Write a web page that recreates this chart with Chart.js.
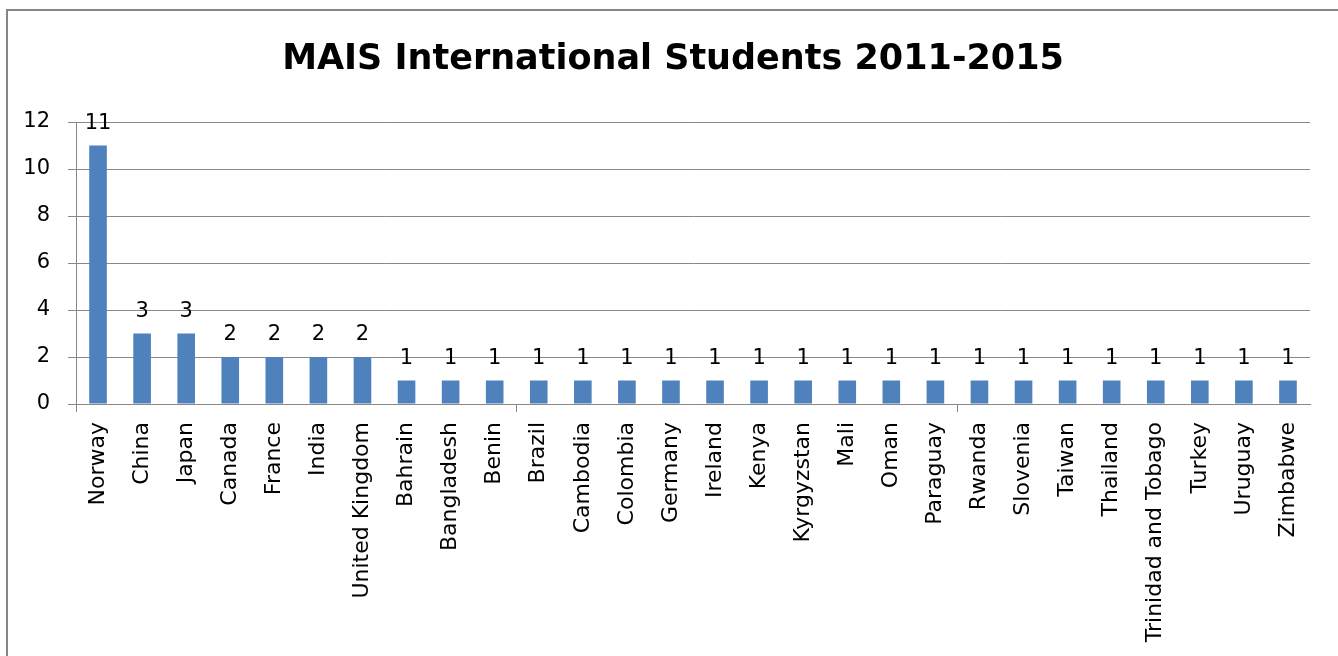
<!DOCTYPE html>
<html>
<head>
<meta charset="utf-8">
<script src="https://cdn.jsdelivr.net/npm/chart.js@4.4.0/dist/chart.umd.min.js"></script>
<style>
  html, body { margin: 0; padding: 0; background: #fff; overflow: hidden; }
  #wrap { position: relative; width: 1338px; height: 656px; overflow: hidden; }
  #frame { position: absolute; left: 6px; top: 9px; width: 1400px; height: 700px;
           border: 2px solid #868686; box-sizing: border-box; }
  canvas { position: absolute; left: 0; top: 0; }
</style>
</head>
<body>
<div id="wrap">
  <div id="frame"></div>
  <canvas id="chart" width="1338" height="656" style="width:1338px;height:656px"></canvas>
</div>
<script>
var countries = [
  "Norway", "China", "Japan", "Canada", "France", "India", "United Kingdom",
  "Bahrain", "Bangladesh", "Benin", "Brazil", "Cambodia", "Colombia", "Germany",
  "Ireland", "Kenya", "Kyrgyzstan", "Mali", "Oman", "Paraguay", "Rwanda",
  "Slovenia", "Taiwan", "Thailand", "Trinidad and Tobago", "Turkey", "Uruguay", "Zimbabwe"
];
var students = [11, 3, 3, 2, 2, 2, 2, 1, 1, 1, 1, 1, 1, 1, 1, 1, 1, 1, 1, 1, 1, 1, 1, 1, 1, 1, 1, 1];
var yMax = 12;
var yStep = 2;

var FONT = "'DejaVu Sans', sans-serif";
var GRAY = "#888888";

// value labels above each bar
var barLabels = {
  id: "barLabels",
  afterLayout: function (chart) {
    // let the y tick labels use the space left of the padding (no clipping)
    chart.scales.y.left = 0;
  },
  afterDatasetsDraw: function (chart) {
    var ctx = chart.ctx;
    var meta = chart.getDatasetMeta(0);
    ctx.save();
    ctx.font = "21px " + FONT;
    ctx.fillStyle = "#000";
    ctx.textAlign = "center";
    ctx.textBaseline = "alphabetic";
    meta.data.forEach(function (bar, i) {
      ctx.fillText(students[i], bar.x, bar.y - 17);
    });
    ctx.restore();
  }
};

var ctx = document.getElementById("chart");

new Chart(ctx, {
  type: "bar",
  data: {
    labels: countries,
    datasets: [
      {
        label: "Students",
        data: students,
        backgroundColor: "#4F81BD",
        borderWidth: 0,
        barPercentage: 0.4,
        categoryPercentage: 1
      }
    ]
  },
  plugins: [barLabels],
  options: {
    responsive: false,
    animation: false,
    layout: { padding: { top: 0, left: 36, right: 28, bottom: 0 } },
    plugins: {
      legend: { display: false },
      tooltip: { enabled: false },
      title: {
        display: true,
        text: "MAIS International Students 2011-2015",
        color: "#000",
        font: { family: FONT, size: 35, weight: "bold", lineHeight: 1.2 },
        padding: { top: 39, bottom: 41 }
      }
    },
    scales: {
      x: {
        afterFit: function (scale) { scale.height = 252; },
        border: { color: GRAY, width: 1 },
        grid: {
          drawOnChartArea: false,
          drawTicks: true,
          tickLength: 8,
          offset: true,
          color: function (c) { return c.index % 10 === 0 ? GRAY : "rgba(0,0,0,0)"; }
        },
        ticks: {
          autoSkip: false,
          maxRotation: 90,
          minRotation: 90,
          padding: 10,
          color: "#000",
          font: { family: FONT, size: 22 }
        }
      },
      y: {
        min: 0,
        max: yMax,
        afterFit: function (scale) { scale.width = 40; },
        border: { color: GRAY, width: 1 },
        grid: { color: GRAY, lineWidth: 1, tickLength: 8 },
        ticks: {
          stepSize: yStep,
          padding: 18,
          color: "#000",
          font: { family: FONT, size: 21 }
        }
      }
    }
  }
});
</script>
</body>
</html>
